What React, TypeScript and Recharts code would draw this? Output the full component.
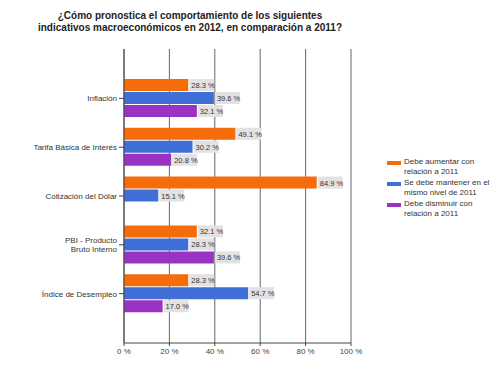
import React from 'react';
import { BarChart, Bar, XAxis, YAxis, CartesianGrid, LabelList } from 'recharts';

const categories = [
  'Inflación',
  'Tarifa Básica de Interés',
  'Cotización del Dólar',
  'PBI - Producto\nBruto Interno',
  'Índice de Desempleo',
];
const aumentar = [28.3, 49.1, 84.9, 32.1, 28.3];
const mantener = [39.6, 30.2, 15.1, 28.3, 54.7];
const disminuir: (number | null)[] = [32.1, 20.8, null, 39.6, 17.0];
const xTicks = [0, 20, 40, 60, 80, 100];

const seriesNames = [
  'Debe aumentar con\nrelación a 2011',
  'Se debe mantener en el\nmismo nivel de 2011',
  'Debe disminuir con\nrelación a 2011',
];
const colors = ['#f66c0a', '#3f6fd6', '#9a32c4'];

const data = categories.map((name, i) => ({
  name,
  aumentar: aumentar[i],
  mantener: mantener[i],
  disminuir: disminuir[i],
}));

const font = '"Liberation Sans", Arial, sans-serif';

const ValueLabel = (props: any) => {
  const { x, y, width, height, value } = props;
  if (value == null) return null;
  const lx = x + width + 1;
  return (
    <g>
      <rect x={lx} y={y} width={25} height={height} fill="#e2e2e2" />
      <text x={lx + 2} y={y + height / 2 + 3} fontSize={7.5} fill="#333" fontFamily={font}>
        {`${Number(value).toFixed(1)} %`}
      </text>
    </g>
  );
};

const CategoryTick = (props: any) => {
  const { x, y, payload } = props;
  const lines = String(payload.value).split('\n');
  const offset = ((lines.length - 1) * 9) / 2;
  return (
    <text x={x} y={y - offset + 3} textAnchor="end" fontSize={8} fill="#333" fontFamily={font}>
      {lines.map((l, i) => (
        <tspan key={i} x={x} dy={i === 0 ? 0 : 9}>{l}</tspan>
      ))}
    </text>
  );
};

export default function App() {
  return (
    <div style={{ position: 'absolute', left: 0, top: 0, width: 500, height: 375, background: '#fff' }}>
      <div
        style={{
          position: 'absolute',
          left: 0,
          width: 380,
          top: 10,
          textAlign: 'center',
          fontFamily: font,
          fontWeight: 'bold',
          fontSize: 10,
          lineHeight: '12px',
          color: '#222',
        }}
      >
        ¿Cómo pronostica el comportamiento de los siguientes
        <br />
        indicativos macroeconómicos en 2012, en comparación a 2011?
      </div>
      <BarChart
        width={500}
        height={375}
        data={data}
        layout="vertical"
        margin={{ top: 49, right: 149, bottom: 0, left: 4 }}
        barSize={12}
        barGap={1}
      >
        <CartesianGrid horizontal={false} stroke="#666" />
        <XAxis
          type="number"
          domain={[0, 100]}
          ticks={xTicks}
          height={32}
          tickFormatter={(v) => `${v} %`}
          tick={{ fontSize: 8, fill: '#444', fontFamily: font }}
          stroke="#444"
          tickSize={3}
        />
        <YAxis
          type="category"
          dataKey="name"
          width={120}
          padding={{ top: 25, bottom: 25 }}
          tick={<CategoryTick />}
          tickSize={5}
          stroke="#444"
          interval={0}
        />
        <Bar dataKey="aumentar" fill={colors[0]} isAnimationActive={false}>
          <LabelList dataKey="aumentar" content={<ValueLabel />} />
        </Bar>
        <Bar dataKey="mantener" fill={colors[1]} isAnimationActive={false}>
          <LabelList dataKey="mantener" content={<ValueLabel />} />
        </Bar>
        <Bar dataKey="disminuir" fill={colors[2]} isAnimationActive={false}>
          <LabelList dataKey="disminuir" content={<ValueLabel />} />
        </Bar>
      </BarChart>
      <div style={{ position: 'absolute', left: 387, top: 157, width: 112, fontFamily: font, fontSize: 8, color: '#333' }}>
        {seriesNames.map((n, i) => (
          <div key={i} style={{ display: 'flex', alignItems: 'flex-start', marginBottom: 1 }}>
            <div style={{ width: 14, height: 4, background: colors[i], marginTop: 4, marginRight: 3, flexShrink: 0 }} />
            <div style={{ lineHeight: '10px', whiteSpace: 'pre' }}>{n}</div>
          </div>
        ))}
      </div>
    </div>
  );
}
